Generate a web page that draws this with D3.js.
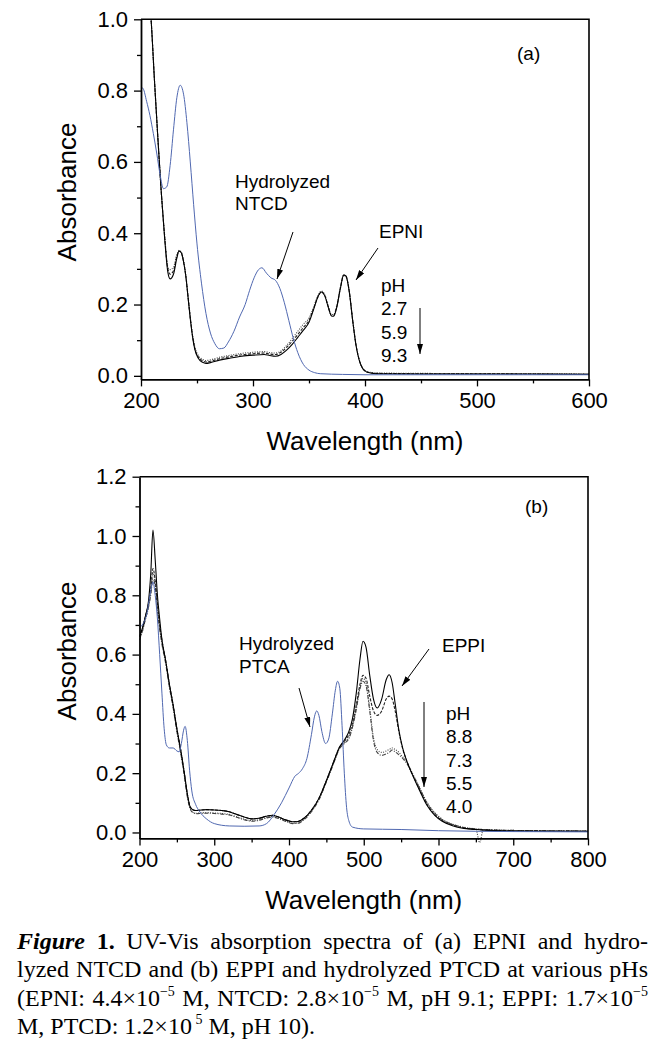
<!DOCTYPE html>
<html><head><meta charset="utf-8">
<script src="https://cdn.jsdelivr.net/npm/d3@7"></script>
<style>
body{margin:0;background:#fff;}
svg{display:block;}
</style></head><body>
<svg id="chart" width="663" height="1050"></svg>
<script>
// ---------- DATA: panel (a) ----------
const nmA = [200,204,207,209,212,215,218,221,224,226,229,232,234,236,238,240,242,244,246,248,251,255,258,262,270,280,290,300,310,315,320,325,330,335,340,345,350,354,358,361,364,367,370,372,375,378,381,383,386,389,392,395,398,402,410,450,500,550,600];
const epni_pH27 = [1.6,1.25,1.08,1.0,0.83,0.67,0.52,0.39,0.29,0.272,0.285,0.33,0.35,0.345,0.32,0.28,0.22,0.16,0.11,0.075,0.05,0.038,0.035,0.037,0.044,0.05,0.055,0.058,0.06,0.057,0.055,0.06,0.072,0.088,0.108,0.128,0.15,0.185,0.222,0.235,0.225,0.195,0.168,0.167,0.195,0.245,0.283,0.28,0.235,0.155,0.085,0.042,0.02,0.01,0.006,0.005,0.005,0.005,0.004];
const epni_pH59 = [1.6,1.25,1.08,1.0,0.83,0.67,0.52,0.395,0.3,0.285,0.295,0.335,0.35,0.345,0.32,0.28,0.222,0.163,0.113,0.078,0.054,0.042,0.039,0.041,0.048,0.054,0.059,0.062,0.064,0.061,0.06,0.066,0.08,0.097,0.116,0.136,0.156,0.188,0.222,0.235,0.226,0.196,0.17,0.17,0.197,0.246,0.283,0.28,0.236,0.156,0.086,0.043,0.021,0.011,0.007,0.006,0.006,0.005,0.004];
const epni_pH93 = [1.6,1.25,1.08,1.0,0.83,0.67,0.52,0.4,0.305,0.298,0.305,0.34,0.352,0.347,0.323,0.283,0.225,0.166,0.116,0.082,0.058,0.046,0.043,0.045,0.052,0.058,0.063,0.066,0.068,0.065,0.064,0.07,0.085,0.104,0.125,0.145,0.162,0.192,0.225,0.238,0.228,0.198,0.172,0.172,0.2,0.248,0.282,0.278,0.236,0.157,0.087,0.044,0.022,0.012,0.008,0.007,0.006,0.006,0.005];
const nmBlueA = [200,202,205,208,211,214,217,220,223,226,229,232,235,238,241,244,247,250,254,258,262,266,270,274,278,283,288,293,297,301,305,308,312,316,320,324,328,332,336,340,345,350,355,360,380,400,450,500,550,600];
const ntcd = [0.81,0.805,0.77,0.73,0.68,0.625,0.565,0.525,0.53,0.59,0.69,0.78,0.815,0.79,0.71,0.6,0.48,0.37,0.26,0.175,0.12,0.09,0.076,0.078,0.095,0.125,0.165,0.2,0.24,0.275,0.298,0.303,0.288,0.275,0.268,0.245,0.205,0.155,0.105,0.065,0.032,0.016,0.009,0.006,0.004,0.003,0.003,0.003,0.003,0.003];
const yTicksA = [0.0,0.2,0.4,0.6,0.8,1.0];
const xTicksA = [200,300,400,500,600];
const pHA = ["2.7","5.9","9.3"];

// ---------- DATA: panel (b) ----------
const nmB = [200,204,208,212,215,218,221,224,227,230,235,240,245,250,255,260,264,268,272,276,280,290,300,310,320,330,340,350,360,370,378,385,395,405,412,420,430,440,450,460,467,475,480,485,490,495,499,503,508,513,518,524,530,534,538,542,547,552,557,565,575,585,595,605,620,640,650,655,660,700,750,800];
const eppi_pH88 = [0.66,0.69,0.73,0.78,0.87,1.02,0.92,0.8,0.72,0.65,0.58,0.5,0.43,0.35,0.28,0.2,0.13,0.085,0.076,0.074,0.075,0.077,0.076,0.074,0.07,0.061,0.052,0.046,0.048,0.055,0.058,0.053,0.043,0.036,0.037,0.048,0.075,0.115,0.175,0.24,0.285,0.315,0.34,0.385,0.47,0.585,0.645,0.625,0.53,0.45,0.42,0.45,0.515,0.532,0.505,0.435,0.345,0.285,0.245,0.195,0.14,0.09,0.058,0.038,0.022,0.012,0.01,0.009,0.008,0.005,0.004,0.004];
const eppi_pH73 = [0.66,0.69,0.73,0.77,0.82,0.89,0.85,0.77,0.7,0.65,0.58,0.5,0.43,0.35,0.28,0.2,0.13,0.085,0.076,0.074,0.075,0.077,0.076,0.074,0.07,0.061,0.052,0.046,0.048,0.055,0.058,0.053,0.043,0.036,0.037,0.048,0.075,0.115,0.175,0.24,0.285,0.31,0.33,0.37,0.43,0.5,0.53,0.52,0.46,0.41,0.395,0.41,0.45,0.46,0.45,0.41,0.34,0.283,0.245,0.197,0.143,0.093,0.06,0.04,0.024,0.013,0.011,0.01,0.009,0.006,0.005,0.004];
const eppi_pH55 = [0.65,0.68,0.72,0.76,0.81,0.875,0.84,0.76,0.69,0.64,0.575,0.495,0.425,0.345,0.275,0.195,0.125,0.08,0.068,0.065,0.066,0.067,0.066,0.064,0.061,0.053,0.045,0.04,0.043,0.05,0.054,0.05,0.04,0.031,0.032,0.044,0.072,0.112,0.172,0.237,0.282,0.305,0.32,0.36,0.42,0.49,0.52,0.505,0.42,0.32,0.28,0.27,0.275,0.28,0.285,0.28,0.27,0.255,0.24,0.2,0.15,0.1,0.067,0.045,0.027,0.015,0.012,-0.035,0.01,0.007,0.006,0.005];
const eppi_pH40 = [0.65,0.68,0.72,0.76,0.8,0.855,0.83,0.75,0.685,0.635,0.57,0.49,0.42,0.34,0.27,0.19,0.12,0.078,0.066,0.063,0.064,0.065,0.064,0.062,0.059,0.051,0.043,0.038,0.041,0.049,0.052,0.048,0.038,0.03,0.031,0.043,0.07,0.11,0.17,0.235,0.28,0.302,0.316,0.355,0.415,0.485,0.51,0.495,0.41,0.31,0.27,0.26,0.265,0.27,0.278,0.272,0.262,0.25,0.235,0.198,0.148,0.098,0.065,0.043,0.026,0.014,0.012,0.011,0.01,0.007,0.006,0.005];
const nmBlueB = [200,205,210,214,218,221,224,227,230,233,236,240,245,250,253,256,259,261,264,267,270,275,280,290,300,320,340,360,370,380,390,400,408,413,418,424,430,434,437,440,444,449,453,458,462,465,468,471,474,477,480,485,500,550,600,650,700,800];
const ptca = [0.69,0.705,0.74,0.8,0.845,0.8,0.72,0.6,0.47,0.35,0.295,0.285,0.285,0.275,0.272,0.3,0.345,0.358,0.31,0.21,0.14,0.095,0.072,0.045,0.03,0.022,0.021,0.022,0.03,0.06,0.1,0.15,0.19,0.2,0.215,0.25,0.33,0.39,0.41,0.395,0.34,0.3,0.315,0.4,0.48,0.51,0.485,0.36,0.2,0.085,0.04,0.018,0.012,0.01,0.006,0.004,0.003,0.002];
const yTicksB = [0.0,0.2,0.4,0.6,0.8,1.0,1.2];
const xTicksB = [200,300,400,500,600,700,800];
const pHB = ["8.8","7.3","5.5","4.0"];

const captionLines = [
  "__Figure__ **1.** UV-Vis absorption spectra of (a) EPNI and hydro-",
  "lyzed NTCD and (b) EPPI and hydrolyzed PTCD at various pHs",
  "(EPNI: 4.4×10^−5 M, NTCD: 2.8×10^−5 M, pH 9.1; EPPI: 1.7×10^−5",
  "M, PTCD: 1.2×10^\u00a05 M, pH 10)."
];

// ---------- DRAWING ----------
const svg = d3.select("#chart");
const SANS = "'Liberation Sans', Arial, sans-serif";
const BLUE = "#5068b0";
const defs = svg.append("defs");
defs.append("marker").attr("id","arr").attr("markerUnits","userSpaceOnUse")
  .attr("markerWidth",10).attr("markerHeight",6).attr("refX",10).attr("refY",3).attr("orient","auto")
  .append("path").attr("d","M0,0 L10,3 L0,6 Z").attr("fill","#000");

function zip(xs, ys){ return xs.map((v,i)=>[v, ys[i]]); }

function panel(o){
  const x = d3.scaleLinear().domain(o.xDomain).range([o.left, o.right]);
  const y = d3.scaleLinear().domain(o.yDomain).range([o.bottom, o.top]);
  const g = svg.append("g");
  const cid = "clip"+o.id;
  defs.append("clipPath").attr("id",cid).append("rect")
    .attr("x",o.left).attr("y",o.top).attr("width",o.right-o.left).attr("height",o.bottom-o.top+4);

  const line = d3.line().x(d=>x(d[0])).y(d=>y(d[1])).curve(d3.curveMonotoneX);
  const cg = g.append("g").attr("clip-path",`url(#${cid})`);
  o.series.forEach(s=>{
    cg.append("path").attr("d", line(zip(s.x, s.y))).attr("fill","none")
      .attr("stroke", s.color).attr("stroke-width", s.w||1.1)
      .attr("stroke-dasharray", s.dash||null);
  });

  const yMinor = d3.range(o.yTicks.length-1).map(i=>(o.yTicks[i]+o.yTicks[i+1])/2);
  const xMinor = d3.range(o.xTicks.length-1).map(i=>(o.xTicks[i]+o.xTicks[i+1])/2);
  g.append("g").attr("transform",`translate(${o.left},0)`)
    .call(d3.axisLeft(y).tickValues(o.yTicks).tickFormat(d3.format(".1f")).tickSizeInner(7).tickSizeOuter(0).tickPadding(6));
  g.append("g").attr("transform",`translate(${o.left},0)`)
    .call(d3.axisLeft(y).tickValues(yMinor).tickFormat("").tickSizeInner(4).tickSizeOuter(0))
    .select(".domain").remove();
  g.append("g").attr("transform",`translate(0,${o.bottom})`)
    .call(d3.axisBottom(x).tickValues(o.xTicks).tickFormat(d3.format("d")).tickSizeInner(7).tickSizeOuter(0).tickPadding(6));
  g.append("g").attr("transform",`translate(0,${o.bottom})`)
    .call(d3.axisBottom(x).tickValues(xMinor).tickFormat("").tickSizeInner(4).tickSizeOuter(0))
    .select(".domain").remove();
  g.selectAll(".tick line").attr("stroke","#000").attr("stroke-width",1.3);
  g.selectAll(".domain").attr("stroke","#000").attr("stroke-width",1.8);
  g.selectAll(".tick text").attr("font-family",SANS).attr("font-size",22).attr("fill","#000");
  g.append("path").attr("d",`M${o.left},${o.top}H${o.right}V${o.bottom}`).attr("fill","none").attr("stroke","#000").attr("stroke-width",1.6);

  g.append("text").attr("x",(o.left+o.right)/2).attr("y",o.xTitleY).attr("text-anchor","middle")
    .attr("font-family",SANS).attr("font-size",26).text("Wavelength (nm)");
  g.append("text").attr("transform",`translate(76,${o.yTitleY}) rotate(-90)`).attr("text-anchor","middle")
    .attr("font-family",SANS).attr("font-size",26).text("Absorbance");

  o.texts.forEach(t=>{
    g.append("text").attr("x",t[0]).attr("y",t[1]).attr("font-family",SANS).attr("font-size",19).text(t[2]);
  });
  o.arrows.forEach(a=>{
    g.append("line").attr("x1",a[0]).attr("y1",a[1]).attr("x2",a[2]).attr("y2",a[3])
      .attr("stroke","#000").attr("stroke-width",1).attr("marker-end","url(#arr)");
  });
}

panel({
  id:"a", xDomain:[200,600], yDomain:[-0.01,1.0], left:141, right:589, top:19.3, bottom:379.4,
  yTicks:yTicksA, xTicks:xTicksA, xTitleY:450, yTitleY:192,
  series:[
    {x:nmA, y:epni_pH93, color:"#444", dash:"1,1.4"},
    {x:nmA, y:epni_pH59, color:"#222", dash:"3,1.5"},
    {x:nmA, y:epni_pH27, color:"#000"},
    {x:nmBlueA, y:ntcd, color:BLUE, w:1}
  ],
  texts:[[517,60,"(a)"],[235,188,"Hydrolyzed"],[235,210,"NTCD"],[379,238,"EPNI"],
         [381,292,"pH"],[381,315,pHA[0]],[381,338.5,pHA[1]],[381,361.7,pHA[2]]],
  arrows:[[293,232,277,279],[378,248,356,280],[420,308,420,354]]
});

panel({
  id:"b", xDomain:[200,800], yDomain:[-0.02,1.2], left:139.5, right:588, top:476.7, bottom:838.4,
  yTicks:yTicksB, xTicks:xTicksB, xTitleY:909, yTitleY:651,
  series:[
    {x:nmB, y:eppi_pH40, color:"#444", dash:"4,1.5,1,1.5"},
    {x:nmB, y:eppi_pH55, color:"#444", dash:"1,1.4"},
    {x:nmB, y:eppi_pH73, color:"#222", dash:"3,1.5"},
    {x:nmB, y:eppi_pH88, color:"#000"},
    {x:nmBlueB, y:ptca, color:BLUE, w:1}
  ],
  texts:[[525,513,"(b)"],[239,650,"Hydrolyzed"],[239,673,"PTCA"],[442,651.7,"EPPI"],
         [446,720,"pH"],[446,743.3,pHB[0]],[446,766.7,pHB[1]],[446,790,pHB[2]],[446,813.3,pHB[3]]],
  arrows:[[299,688,310,727],[429,649,402,686],[424,702,424,787]]
});

// ---------- CAPTION (justified, Times) ----------
const CAP_L = 17, CAP_R = 648, CAP_FS = 24, CAP_Y0 = 949, CAP_LH = 28.3;
const cap = svg.append("g").attr("font-family","'Liberation Serif','Times New Roman',serif").attr("font-size",CAP_FS);
captionLines.forEach((ln, li)=>{
  const words = ln.split(" ");
  const nodes = words.map(w=>{
    const t = cap.append("text").attr("y", CAP_Y0 + li*CAP_LH).attr("x",0).style("white-space","pre");
    let style = "n", txt = w;
    if (w.startsWith("__")) { style="bi"; txt = w.slice(2,-2); }
    else if (w.startsWith("**")) { style="b"; txt = w.slice(2,-2); }
    const parts = txt.split("^");
    const s0 = t.append("tspan").text(parts[0]);
    if (style==="bi") s0.attr("font-weight","bold").attr("font-style","italic");
    if (style==="b") s0.attr("font-weight","bold");
    if (parts.length>1) t.append("tspan").attr("font-size",14).attr("dy",-9.5).text(parts[1]);
    return t;
  });
  const widths = nodes.map(n=>n.node().getComputedTextLength());
  const total = d3.sum(widths);
  const just = li < captionLines.length-1;
  const gap = just ? (CAP_R-CAP_L-total)/(words.length-1) : CAP_FS*0.25;
  let xp = CAP_L;
  nodes.forEach((n,i)=>{ n.attr("x", xp); xp += widths[i] + gap; });
});
</script>
</body></html>
